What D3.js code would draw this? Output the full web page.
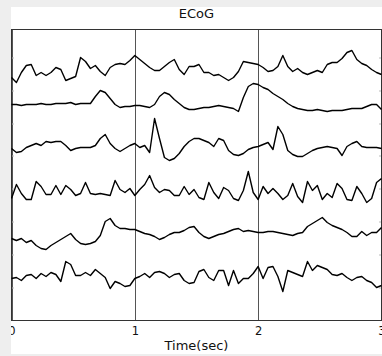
<!DOCTYPE html>
<html>
<head>
<meta charset="utf-8">
<script src="https://cdn.jsdelivr.net/npm/d3@7"></script>
<style>
  html, body { margin: 0; padding: 0; background: #eeeeee; }
  svg { display: block; }
</style>
</head>
<body>
<div id="chart"></div>
<script>
// chart text
const title = "ECoG";
const xLabel = "Time(sec)";
const xTicks = [0, 1, 2, 3];
const yTicks = [33, 66, 99, 132, 165, 197, 230, 263]; // unlabelled ticks

// recording: one sample every 0.04 s, 6 stacked channels
const sampleStep = 0.04;
const channelOffsets = [253, 216, 172, 125, 88, 45];

const ch1 = [-10,-15,-5,2,3,-8,-5,-8,-5,0, -2,-13,-11,-9,10,6,-1,2,-4,-8,
  0,3,4,3,7,12,8,4,0,-3, -3,1,5,8,-2,-7,1,1,3,-5,
  -5,-8,-7,-10,-13,-10,-4,6,5,4, 3,0,-4,-3,1,12,1,-4,-1,-5,
  -7,-5,-3,-5,3,5,5,9,15,17, 8,4,2,-2,-5,-7];
const ch2 = [0,0,-1,0,0,0,1,0,0,1, 1,1,2,0,1,1,1,8,14,12,
  6,0,-3,-2,-2,-1,-1,-2,-3,0, 8,12,10,5,1,-3,-5,-5,-4,-3,
  -3,-2,-1,-2,-3,-4,-7,7,18,21, 20,17,15,11,8,5,1,-2,-4,-5,
  -6,-6,-5,-6,-7,-6,-6,-6,-5,-4, -4,-4,-2,0,0,-5];
const ch3 = [0,-4,-3,1,3,5,3,7,6,7, 7,3,-2,0,1,1,1,3,10,14,
  5,0,-3,0,3,5,1,3,-4,30, 10,-9,-12,-10,-5,2,7,10,10,8,
  6,2,10,8,-2,-6,-7,-5,-1,1, 2,4,6,-1,22,14,-2,-6,-8,-8,
  -5,-2,0,1,2,1,0,-7,2,5, 7,2,1,1,1,0];
const ch4 = [-3,11,2,-4,-4,14,9,1,1,10, 1,10,6,0,2,13,2,1,2,1,
  0,15,6,3,7,0,6,11,20,8, 3,6,5,0,0,9,1,6,-2,-4,
  13,3,-3,8,5,-3,-5,5,24,3, -4,9,2,7,2,-4,0,12,-1,-7,
  14,5,10,-4,2,-2,12,7,-4,-5, 9,2,-7,-3,13,17];
const ch5 = [-6,-8,-6,-10,-8,-13,-16,-17,-13,-10, -7,-4,-1,-7,-11,-12,-11,-9,-3,11,
  14,7,4,4,3,3,1,-1,-2,-4, -7,-5,-2,0,0,2,5,6,0,-4,
  -6,-4,-2,-1,1,3,4,1,2,1, 0,0,1,1,0,-1,-2,-3,-1,0,
  6,9,12,15,10,7,5,3,0,-4, -4,1,-3,0,0,5];
const ch6 = [-3,-2,-5,0,1,-3,2,-1,3,1, -6,14,11,0,0,3,0,6,2,-2,
  -13,-6,-8,-11,-10,-3,-1,2,-2,3, 4,2,-2,1,2,-5,-8,-7,4,6,
  -2,-5,5,5,-10,5,-8,-3,-3,2, 9,-3,8,9,-1,-16,5,3,1,-1,
  14,5,10,8,6,1,0,2,-2,-5, -2,-1,-5,-7,-12,-10];
const channels = [ch1, ch2, ch3, ch4, ch5, ch6];

const W = 382, H = 356;
const fig = { x: 11, y: 7, w: 371, h: 347 };
const margin = { top: 29.5, right: 0.5, bottom: 35.5, left: 11.5 };
const width = W - margin.left - margin.right;
const height = H - margin.top - margin.bottom;
const font = "'DejaVu Sans', Verdana, sans-serif";

const svg = d3.select("#chart").append("svg")
  .attr("width", W)
  .attr("height", H);

svg.append("clipPath").attr("id", "figclip")
  .append("rect")
  .attr("x", fig.x).attr("y", fig.y)
  .attr("width", fig.w).attr("height", fig.h);

const root = svg.append("g").attr("clip-path", "url(#figclip)");

root.append("rect")
  .attr("x", fig.x).attr("y", fig.y)
  .attr("width", fig.w).attr("height", fig.h)
  .attr("fill", "#ffffff");

const g = root.append("g")
  .attr("transform", `translate(${margin.left},${margin.top})`);

const x = d3.scaleLinear().domain([0, 3]).range([0, width]);
const y = d3.scaleLinear().domain([0, 291]).range([height, 0]);

// time axis with full-height grid lines
const xAxis = g.append("g")
  .attr("transform", `translate(0,${height})`)
  .call(d3.axisBottom(x).tickValues(xTicks).tickSize(-height).tickPadding(6.5).tickFormat(d3.format("d")));
xAxis.select(".domain").remove();
xAxis.selectAll("line").attr("stroke", "#555").attr("shape-rendering", "crispEdges");
xAxis.selectAll("text")
  .attr("fill", "#111")
  .style("font-family", font)
  .style("font-size", "11.5px");

// tiny inward ticks on both sides
const yl = g.append("g")
  .call(d3.axisLeft(y).tickValues(yTicks).tickSize(-2.5).tickFormat(""));
const yr = g.append("g")
  .attr("transform", `translate(${width},0)`)
  .call(d3.axisRight(y).tickValues(yTicks).tickSize(-2.5).tickFormat(""));
[yl, yr].forEach(a => {
  a.select(".domain").remove();
  a.selectAll("line").attr("stroke", "#bbb");
});

g.append("rect")
  .attr("width", width).attr("height", height)
  .attr("fill", "none")
  .attr("stroke", "#333")
  .attr("shape-rendering", "crispEdges");

const line = d3.line()
  .x((d, i) => x(i * sampleStep))
  .y(d => y(d));

g.selectAll(".trace")
  .data(channels.map((ch, k) => ch.map(v => v + channelOffsets[k])))
  .enter()
  .append("path")
  .attr("class", "trace")
  .attr("d", line)
  .attr("fill", "none")
  .attr("stroke", "#000")
  .attr("stroke-width", 1.4)
  .attr("stroke-linejoin", "round");

root.append("text")
  .attr("x", margin.left + width / 2)
  .attr("y", 18)
  .attr("text-anchor", "middle")
  .attr("fill", "#111")
  .style("font-family", font)
  .style("font-size", "13px")
  .text(title);

root.append("text")
  .attr("x", margin.left + width / 2)
  .attr("y", 350)
  .attr("text-anchor", "middle")
  .attr("fill", "#111")
  .style("font-family", font)
  .style("font-size", "13px")
  .text(xLabel);
</script>
</body>
</html>
